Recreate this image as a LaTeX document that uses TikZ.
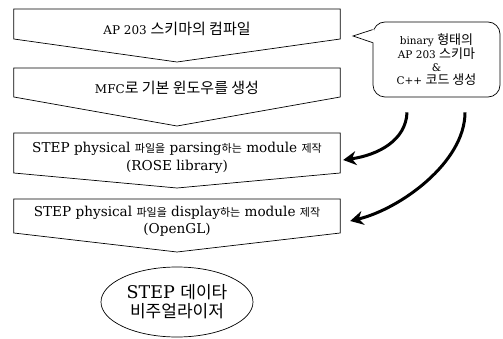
\documentclass[tikz,border=0pt]{standalone}
\usepackage{fontspec}
\setmainfont{DejaVu Serif}
\newfontfamily\kr{Noto Sans CJK KR}
\newcommand{\ko}[2][15]{{\kr\fontsize{#1}{#1}\selectfont #2}}
\usetikzlibrary{arrows.meta,shapes.geometric}
\tikzset{
    stepbox/.style={minimum width=326pt, inner sep=0pt, align=center},
    boxline/.style={draw, line width=.7pt},
    bigarrow/.style={line width=3pt, -{Stealth[length=13pt, width=14pt]}}
}
% down-pointing box round a node: top, side, tip offsets
\newcommand{\chevron}[4]{%
  \draw[boxline] ([yshift=#2pt]#1.west) -- ([yshift=#2pt]#1.east)
    -- ([yshift=-#3pt]#1.east) -- ([yshift=-#4pt]#1.center)
    -- ([yshift=-#3pt]#1.west) -- cycle;}

\begin{document}
\begin{tikzpicture}[x=1pt, y=1pt]
  \useasboundingbox (0,0) rectangle (503,-339);

  \node (s1) [stepbox, font=\fontsize{12}{15}\selectfont] at (177,-29)
    {AP 203 \ko{스키마의 컴파일}};
  \node (s2) [stepbox, font=\fontsize{12}{15}\selectfont] at (177,-88)
    {MFC\ko{로 기본 윈도우를 생성}};
  \node (s3) [stepbox, font=\fontsize{13.6}{18.5}\selectfont] at (177,-158)
    {STEP physical \ko[11]{파일을} parsing\ko[11]{하는} module \ko[11]{제작}\\(ROSE library)};
  \node (s4) [stepbox, font=\fontsize{13.6}{17}\selectfont] at (177,-221)
    {STEP physical \ko[11]{파일을} display\ko[11]{하는} module \ko[11]{제작}\\(OpenGL)};

  \node (viz) [ellipse, draw, line width=.7pt, inner sep=0pt,
    minimum width=152pt, minimum height=70pt, align=center,
    font=\fontsize{17.5}{19}\selectfont] at (177,-302)
    {STEP \ko[17]{데이타}\\\ko[17]{비주얼라이저}};

  \node (cb) [draw, line width=.7pt, rounded corners=12pt, inner sep=0pt,
    minimum width=127pt, minimum height=75pt, align=center,
    font=\fontsize{10.5}{12.8}\selectfont] at (436.5,-59.5)
    {binary \ko[13]{형태의}\\AP 203 \ko[13]{스키마}\\\&\\C++ \ko[13]{코드 생성}};

  \chevron{s1}{20}{10}{33}
  \chevron{s2}{20}{9}{38}
  \chevron{s3}{25}{15}{30}
  \chevron{s4}{22}{12}{31}

  % callout tail
  \coordinate (tail) at (353,-36);
  \fill[white] ([xshift=1.5pt, yshift=-8pt]cb.north west) -- (tail)
    -- ([xshift=1.5pt, yshift=-21pt]cb.north west) -- cycle;
  \draw[line width=.7pt] ([yshift=-8pt]cb.north west) -- (tail)
    -- ([yshift=-21pt]cb.north west);

  \coordinate (a1) at ([xshift=-29.5pt, yshift=-15pt]cb.south);
  \coordinate (a2) at ([xshift=28.5pt, yshift=-15pt]cb.south);
  \draw[bigarrow] (a1) .. controls +(-1,-28) and +(35,5)
    .. ([xshift=3pt, yshift=-2pt]s3.east);
  \draw[bigarrow] (a2) .. controls +(0,-50) and +(50,12)
    .. ([xshift=10pt]s4.east);

\end{tikzpicture}
\end{document}
